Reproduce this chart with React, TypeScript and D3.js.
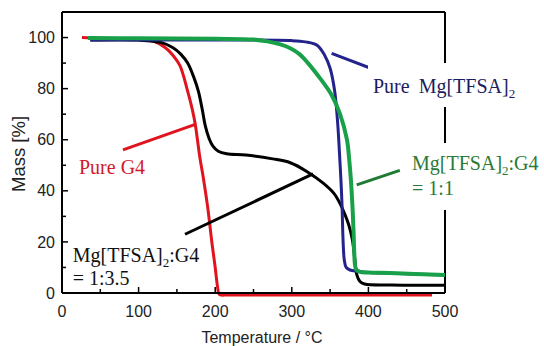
import React from 'react';
import * as d3 from 'd3';

const W = 544;
const H = 346;

// Axis ticks
const xTicks = [0, 100, 200, 300, 400, 500];
const xMinorTicks = [50, 150, 250, 350, 450];
const yTicks = [0, 20, 40, 60, 80, 100];
const yMinorTicks = [10, 30, 50, 70, 90];

// Pure G4
const g4Temp = [26, 60, 100, 120, 135, 145, 154, 164, 170, 174, 180, 184, 190, 196, 200, 203, 205, 208, 215, 250, 300, 400, 483];
const g4Mass = [100, 99.6, 99.2, 98.5, 96, 93, 89, 79, 72, 66, 53, 46, 34, 19, 10, 2.5, -0.4, -0.8, -0.8, -0.8, -0.8, -0.8, -0.8];

// Mg[TFSA]2:G4 = 1:3.5
const r35Temp = [37, 100, 130, 145, 155, 164, 172, 178, 183, 187, 192, 197, 204, 215, 240, 275, 298, 320, 341, 355, 363, 369, 374, 379, 382, 385, 389, 395, 430, 500];
const r35Mass = [99, 99, 98, 96, 93.5, 90, 84.5, 79, 72, 65.5, 60.5, 57.5, 55.5, 54.5, 54, 52.5, 51, 47.5, 43, 39, 35, 31, 27, 21, 14, 7, 4.5, 3.5, 3.1, 3];

// Pure Mg[TFSA]2
const saltTemp = [37, 100, 200, 300, 318, 333, 343, 350, 356, 360, 362, 364, 365.5, 367, 368.5, 371, 376, 385, 393, 420, 500];
const saltMass = [99, 99, 99, 98.8, 98.3, 97, 93, 88, 79, 66, 56, 45, 35, 20, 13, 10, 9, 8.5, 8.2, 7.8, 7];

// Mg[TFSA]2:G4 = 1:1
const r11Temp = [34, 100, 200, 250, 268, 285, 298, 310, 320, 337, 352, 363, 372, 375, 377, 379, 380.5, 381.5, 382.5, 384, 389, 400, 428, 500];
const r11Mass = [99.8, 99.7, 99.5, 99.2, 98.5, 97.3, 95.8, 93.5, 90.4, 84, 77.5, 70, 60, 52, 45, 35, 25, 16, 11, 9.2, 8.3, 8, 7.8, 7];

// Leader lines [T0, m0, T1, m1]
const g4Leader = [79.6, 56, 174, 66];
const saltLeader = [352, 93.8, 415, 86.6];
const r11Leader = [384.7, 42.3, 441, 48];
const r35Leader = [160.6, 23, 327.7, 46.6];

const x = d3.scaleLinear().domain([0, 500]).range([62, 445]);
const y = d3.scaleLinear().domain([0, 110]).range([293, 12]);

const line = d3
  .line<[number, number]>()
  .x((d) => x(d[0]))
  .y((d) => y(d[1]))
  .curve(d3.curveCatmullRom.alpha(0.5));

const pts = (t: number[], m: number[]) => t.map((v, i) => [v, m[i]] as [number, number]);

const SANS = "'Liberation Sans', Arial, sans-serif";
const SERIF = "'Liberation Serif', 'Times New Roman', serif";

const RED = '#e0141e';
const NAVY = '#23238c';
const GREEN = '#19a14a';

function Leader({ d, color }: { d: number[]; color: string }) {
  return (
    <line x1={x(d[0])} y1={y(d[1])} x2={x(d[2])} y2={y(d[3])} stroke={color} strokeWidth={3} />
  );
}

function Formula({ px, py, color, tail }: { px: number; py: number; color: string; tail: string }) {
  return (
    <text x={px} y={py} fill={color} fontFamily={SERIF} fontSize={20}>
      Mg[TFSA]
      <tspan fontSize={13} dy={5}>2</tspan>
      <tspan dy={-5}>{tail}</tspan>
    </text>
  );
}

export default function App() {
  return (
    <svg
      width={W}
      height={H}
      style={{ position: 'absolute', left: 0, top: 0, background: '#fff' }}
    >
      <rect width={W} height={H} fill="#fff" />

      {/* frame */}
      <line x1={x(0)} y1={y(110)} x2={x(500)} y2={y(110)} stroke="#000" strokeWidth={2} />
      <line x1={x(500)} y1={y(110)} x2={x(500)} y2={y(0)} stroke="#000" strokeWidth={2} />

      {/* curves */}
      <path d={line(pts(g4Temp, g4Mass)) || ''} fill="none" stroke={RED} strokeWidth={3} />
      <path d={line(pts(r35Temp, r35Mass)) || ''} fill="none" stroke="#000" strokeWidth={3} />
      <path d={line(pts(saltTemp, saltMass)) || ''} fill="none" stroke={NAVY} strokeWidth={3} />
      <path d={line(pts(r11Temp, r11Mass)) || ''} fill="none" stroke={GREEN} strokeWidth={4} />

      {/* axes */}
      <line x1={x(0)} y1={y(0)} x2={x(500)} y2={y(0)} stroke="#000" strokeWidth={2} />
      <line x1={x(0)} y1={y(0)} x2={x(0)} y2={y(110)} stroke="#000" strokeWidth={2} />
      {xTicks.map((t) => (
        <g key={'xt' + t}>
          <line x1={x(t)} x2={x(t)} y1={y(0)} y2={y(0) - 6} stroke="#000" strokeWidth={1.5} />
          <text x={x(t)} y={317} textAnchor="middle" fontFamily={SANS} fontSize={16} fill="#222">
            {t}
          </text>
        </g>
      ))}
      {xMinorTicks.map((t) => (
        <line key={'xm' + t} x1={x(t)} x2={x(t)} y1={y(0)} y2={y(0) - 4} stroke="#000" strokeWidth={1.5} />
      ))}
      {yTicks.map((t) => (
        <g key={'yt' + t}>
          <line x1={x(0)} x2={x(0) + 6} y1={y(t)} y2={y(t)} stroke="#000" strokeWidth={1.5} />
          <text x={55} y={y(t)} dy="0.35em" textAnchor="end" fontFamily={SANS} fontSize={16} fill="#222">
            {t}
          </text>
        </g>
      ))}
      {yMinorTicks.map((t) => (
        <line key={'ym' + t} x1={x(0)} x2={x(0) + 4} y1={y(t)} y2={y(t)} stroke="#000" strokeWidth={1.5} />
      ))}

      <text x={262} y={343} textAnchor="middle" fontFamily={SANS} fontSize={16} fill="#222">
        Temperature / °C
      </text>
      <text
        transform={`translate(25, 154) rotate(-90)`}
        textAnchor="middle"
        fontFamily={SANS}
        fontSize={18.5}
        fill="#222"
      >
        Mass [%]
      </text>

      {/* leaders */}
      <Leader d={g4Leader} color={RED} />
      <Leader d={saltLeader} color={NAVY} />
      <Leader d={r11Leader} color="#1f7a35" />
      <Leader d={r35Leader} color="#000" />

      {/* labels */}
      <text x={x(22.2)} y={y(46.6)} fill="#d11a2a" fontFamily={SERIF} fontSize={20}>
        Pure G4
      </text>

      <rect x={368} y={63} width={168} height={44} fill="#fff" />
      <text x={x(406)} y={y(78.3)} fill="#1c1c5e" fontFamily={SERIF} fontSize={20}>
        Pure<tspan dx={9}>Mg[TFSA]</tspan>
        <tspan fontSize={13} dy={5}>2</tspan>
      </text>

      <rect x={406} y={143} width={138} height={67} fill="#fff" />
      <Formula px={x(457)} py={y(48.1)} color="#2a7a35" tail=":G4" />
      <text x={x(457)} y={y(38.2)} fill="#2a7a35" fontFamily={SERIF} fontSize={20}>
        = 1:1
      </text>

      <Formula px={x(14)} py={y(12.1)} color="#111" tail=":G4" />
      <text x={x(14)} y={y(3.1)} fill="#111" fontFamily={SERIF} fontSize={20}>
        = 1:3.5
      </text>
    </svg>
  );
}
